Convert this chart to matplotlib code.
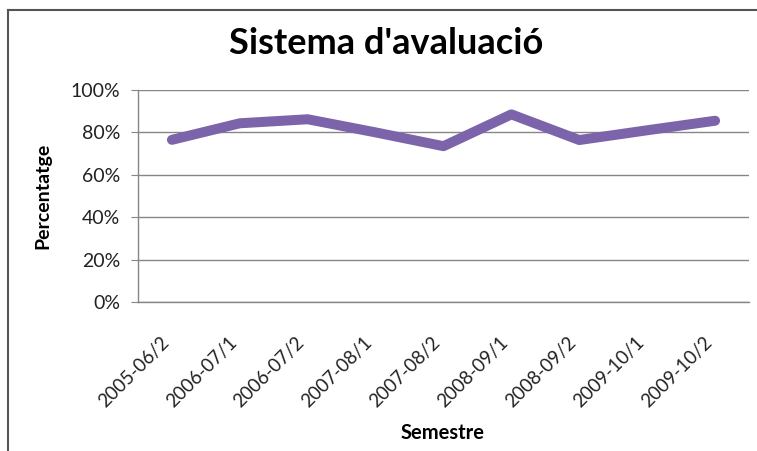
import matplotlib.pyplot as plt
import matplotlib.transforms as mtransforms
from matplotlib.lines import Line2D
from matplotlib.ticker import FuncFormatter

semestres = ["2005-06/2", "2006-07/1", "2006-07/2", "2007-08/1", "2007-08/2",
             "2008-09/1", "2008-09/2", "2009-10/1", "2009-10/2"]
percentatge = [0.765, 0.843, 0.862, 0.80, 0.735, 0.885, 0.764, 0.81, 0.855]
y_ticks = [0, 0.2, 0.4, 0.6, 0.8, 1.0]

plt.rcParams['font.family'] = ['Lato', 'DejaVu Sans']

fig = plt.figure(figsize=(7.57, 4.51), dpi=100)
ax = fig.add_axes([138 / 757, 1 - 302 / 451, (749 - 138) / 757, (302 - 90) / 451])

x = list(range(len(semestres)))
ax.plot(x, percentatge, color='#7B64A9', linewidth=7.2,
        solid_capstyle='round', solid_joinstyle='round', zorder=3)

ax.set_xlim(-0.5, len(semestres) - 0.5)
ax.set_ylim(0, 1.0)
ax.set_yticks(y_ticks)
ax.yaxis.set_major_formatter(FuncFormatter(lambda v, p: f"{v * 100:.0f}%"))
ax.set_xticks(x)
ax.set_xticklabels(semestres, rotation=45, ha='right', va='top')

# nudge the rotated labels a little to the right, as in the original
shift = mtransforms.ScaledTranslation(6 / 100, 0, fig.dpi_scale_trans)
for lbl in ax.get_xticklabels():
    lbl.set_transform(lbl.get_transform() + shift)

ax.grid(axis='y', color='#868686', linewidth=1)
ax.set_axisbelow(True)
for side in ['top', 'right']:
    ax.spines[side].set_visible(False)
for side in ['left', 'bottom']:
    ax.spines[side].set_color('#868686')
    ax.spines[side].set_linewidth(1)
ax.tick_params(axis='y', length=5, color='#868686', pad=8, labelsize=14, labelcolor='#222222')
ax.tick_params(axis='x', length=0, pad=23, labelsize=13.5, labelcolor='#222222')

fig.text(386 / 757, 1 - 43 / 451, "Sistema d'avaluació", fontsize=26, fontweight='bold',
         ha='center', va='center')
fig.text(43 / 757, 1 - 196 / 451, "Percentatge", fontsize=14, fontweight='bold',
         rotation=90, ha='center', va='center')
fig.text(443 / 757, 1 - 433 / 451, "Semestre", fontsize=14.5, fontweight='bold',
         ha='center', va='center')

# chart area frame (left and top edges visible)
fig.add_artist(Line2D([8 / 757, 8 / 757], [0, 1 - 10 / 451], transform=fig.transFigure,
                      color='#555555', linewidth=1.5))
fig.add_artist(Line2D([8 / 757, 1], [1 - 10 / 451, 1 - 10 / 451], transform=fig.transFigure,
                      color='#555555', linewidth=1.5))

plt.savefig("out.png", dpi=100)
